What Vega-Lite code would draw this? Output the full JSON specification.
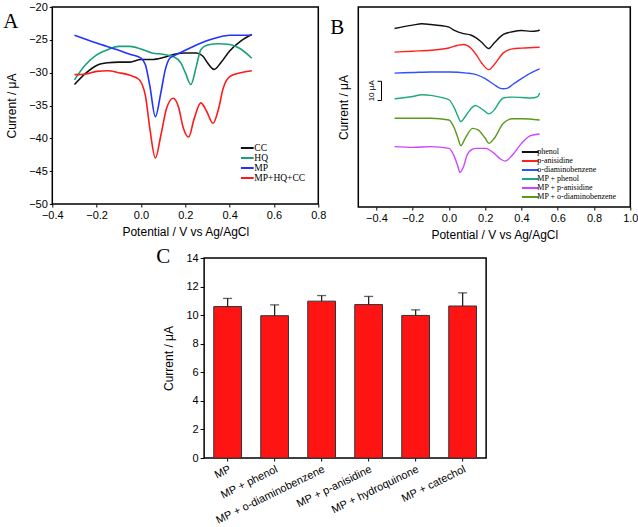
{
  "$schema": "https://vega.github.io/schema/vega-lite/v6.json",
  "background": "white",
  "padding": {"left": 2, "top": 0, "right": 0, "bottom": 2},
  "spacing": 4,
  "center": true,
  "resolve": {"scale": {"color": "independent"}, "legend": {"color": "independent"}},
  "config": {
    "view": {"stroke": "black", "strokeWidth": 1.5},
    "axis": {
      "domain": false, "grid": false, "tickColor": "black", "tickSize": 3,
      "labelColor": "black", "labelFont": "Liberation Sans", "labelFontSize": 11,
      "titleFont": "Liberation Sans", "titleFontSize": 12, "titleFontWeight": "normal", "titleColor": "black",
      "labelPadding": 2, "labelFlush": false, "labelOverlap": false
    },
    "legend": {
      "labelFont": "Liberation Serif", "labelColor": "black",
      "symbolStrokeWidth": 2, "padding": 0, "title": null, "labelOffset": 2
    },
    "title": {"font": "Liberation Serif", "fontSize": 21, "fontWeight": "normal", "color": "black", "anchor": "start", "frame": "group", "offset": 0}
  },
  "datasets": {
    "a": [
      {"s": "CC", "x": -0.3, "y": -31.8}, {"s": "CC", "x": -0.25, "y": -30.1}, {"s": "CC", "x": -0.2, "y": -28.9}, {"s": "CC", "x": -0.15, "y": -28.5}, {"s": "CC", "x": -0.1, "y": -28.4}, {"s": "CC", "x": -0.05, "y": -28.4}, {"s": "CC", "x": 0.0, "y": -28.0}, {"s": "CC", "x": 0.05, "y": -28.0}, {"s": "CC", "x": 0.1, "y": -27.7}, {"s": "CC", "x": 0.15, "y": -27.2}, {"s": "CC", "x": 0.2, "y": -27.0}, {"s": "CC", "x": 0.25, "y": -27.0}, {"s": "CC", "x": 0.28, "y": -27.5}, {"s": "CC", "x": 0.3, "y": -28.5}, {"s": "CC", "x": 0.33, "y": -29.5}, {"s": "CC", "x": 0.36, "y": -28.5}, {"s": "CC", "x": 0.4, "y": -26.7}, {"s": "CC", "x": 0.45, "y": -25.2}, {"s": "CC", "x": 0.5, "y": -24.2},
      {"s": "HQ", "x": -0.3, "y": -31.1}, {"s": "HQ", "x": -0.25, "y": -28.8}, {"s": "HQ", "x": -0.2, "y": -27.3}, {"s": "HQ", "x": -0.15, "y": -26.5}, {"s": "HQ", "x": -0.1, "y": -26.0}, {"s": "HQ", "x": -0.05, "y": -26.0}, {"s": "HQ", "x": 0.0, "y": -26.4}, {"s": "HQ", "x": 0.05, "y": -27.0}, {"s": "HQ", "x": 0.1, "y": -27.2}, {"s": "HQ", "x": 0.15, "y": -27.6}, {"s": "HQ", "x": 0.18, "y": -28.5}, {"s": "HQ", "x": 0.2, "y": -30.0}, {"s": "HQ", "x": 0.225, "y": -31.8}, {"s": "HQ", "x": 0.25, "y": -29.0}, {"s": "HQ", "x": 0.27, "y": -26.5}, {"s": "HQ", "x": 0.3, "y": -25.8}, {"s": "HQ", "x": 0.35, "y": -25.6}, {"s": "HQ", "x": 0.4, "y": -25.7}, {"s": "HQ", "x": 0.45, "y": -26.4}, {"s": "HQ", "x": 0.5, "y": -27.8},
      {"s": "MP", "x": -0.3, "y": -24.3}, {"s": "MP", "x": -0.2, "y": -25.5}, {"s": "MP", "x": -0.1, "y": -26.6}, {"s": "MP", "x": -0.05, "y": -27.2}, {"s": "MP", "x": 0.0, "y": -27.8}, {"s": "MP", "x": 0.02, "y": -28.8}, {"s": "MP", "x": 0.04, "y": -32.0}, {"s": "MP", "x": 0.065, "y": -36.7}, {"s": "MP", "x": 0.09, "y": -33.0}, {"s": "MP", "x": 0.11, "y": -29.5}, {"s": "MP", "x": 0.13, "y": -27.8}, {"s": "MP", "x": 0.15, "y": -27.4}, {"s": "MP", "x": 0.2, "y": -26.6}, {"s": "MP", "x": 0.25, "y": -25.8}, {"s": "MP", "x": 0.3, "y": -25.1}, {"s": "MP", "x": 0.35, "y": -24.6}, {"s": "MP", "x": 0.4, "y": -24.3}, {"s": "MP", "x": 0.5, "y": -24.3},
      {"s": "MP+HQ+CC", "x": -0.3, "y": -30.3}, {"s": "MP+HQ+CC", "x": -0.25, "y": -30.2}, {"s": "MP+HQ+CC", "x": -0.2, "y": -29.8}, {"s": "MP+HQ+CC", "x": -0.15, "y": -29.7}, {"s": "MP+HQ+CC", "x": -0.1, "y": -30.0}, {"s": "MP+HQ+CC", "x": -0.05, "y": -30.4}, {"s": "MP+HQ+CC", "x": -0.01, "y": -31.0}, {"s": "MP+HQ+CC", "x": 0.02, "y": -33.5}, {"s": "MP+HQ+CC", "x": 0.04, "y": -38.5}, {"s": "MP+HQ+CC", "x": 0.065, "y": -43.0}, {"s": "MP+HQ+CC", "x": 0.09, "y": -39.5}, {"s": "MP+HQ+CC", "x": 0.115, "y": -35.5}, {"s": "MP+HQ+CC", "x": 0.145, "y": -33.9}, {"s": "MP+HQ+CC", "x": 0.17, "y": -35.3}, {"s": "MP+HQ+CC", "x": 0.19, "y": -38.3}, {"s": "MP+HQ+CC", "x": 0.215, "y": -39.8}, {"s": "MP+HQ+CC", "x": 0.24, "y": -37.0}, {"s": "MP+HQ+CC", "x": 0.27, "y": -34.6}, {"s": "MP+HQ+CC", "x": 0.295, "y": -35.8}, {"s": "MP+HQ+CC", "x": 0.325, "y": -37.7}, {"s": "MP+HQ+CC", "x": 0.35, "y": -35.5}, {"s": "MP+HQ+CC", "x": 0.37, "y": -32.5}, {"s": "MP+HQ+CC", "x": 0.4, "y": -30.6}, {"s": "MP+HQ+CC", "x": 0.45, "y": -30.0}, {"s": "MP+HQ+CC", "x": 0.5, "y": -29.7}
    ],
    "b": [
      {"s": "phenol", "x": -0.3, "y": 93.7}, {"s": "phenol", "x": -0.2, "y": 95.5}, {"s": "phenol", "x": -0.15, "y": 96.2}, {"s": "phenol", "x": -0.1, "y": 95.8}, {"s": "phenol", "x": -0.05, "y": 95.3}, {"s": "phenol", "x": 0.0, "y": 94.4}, {"s": "phenol", "x": 0.03, "y": 92.7}, {"s": "phenol", "x": 0.08, "y": 91.0}, {"s": "phenol", "x": 0.12, "y": 90.3}, {"s": "phenol", "x": 0.15, "y": 88.8}, {"s": "phenol", "x": 0.18, "y": 86.5}, {"s": "phenol", "x": 0.22, "y": 83.2}, {"s": "phenol", "x": 0.25, "y": 86.2}, {"s": "phenol", "x": 0.3, "y": 90.6}, {"s": "phenol", "x": 0.35, "y": 92.0}, {"s": "phenol", "x": 0.4, "y": 92.7}, {"s": "phenol", "x": 0.45, "y": 92.2}, {"s": "phenol", "x": 0.49, "y": 92.5}, {"s": "phenol", "x": 0.5, "y": 93.0},
      {"s": "p-anisidine", "x": -0.3, "y": 81.3}, {"s": "p-anisidine", "x": -0.2, "y": 81.8}, {"s": "p-anisidine", "x": -0.1, "y": 82.3}, {"s": "p-anisidine", "x": 0.0, "y": 83.5}, {"s": "p-anisidine", "x": 0.05, "y": 84.9}, {"s": "p-anisidine", "x": 0.08, "y": 85.3}, {"s": "p-anisidine", "x": 0.12, "y": 83.5}, {"s": "p-anisidine", "x": 0.15, "y": 80.0}, {"s": "p-anisidine", "x": 0.18, "y": 75.6}, {"s": "p-anisidine", "x": 0.22, "y": 72.1}, {"s": "p-anisidine", "x": 0.25, "y": 74.8}, {"s": "p-anisidine", "x": 0.3, "y": 80.9}, {"s": "p-anisidine", "x": 0.35, "y": 83.0}, {"s": "p-anisidine", "x": 0.4, "y": 83.4}, {"s": "p-anisidine", "x": 0.5, "y": 83.9},
      {"s": "o-diaminobenzene", "x": -0.3, "y": 70.3}, {"s": "o-diaminobenzene", "x": -0.2, "y": 70.6}, {"s": "o-diaminobenzene", "x": -0.1, "y": 70.9}, {"s": "o-diaminobenzene", "x": 0.0, "y": 70.9}, {"s": "o-diaminobenzene", "x": 0.1, "y": 70.3}, {"s": "o-diaminobenzene", "x": 0.15, "y": 69.5}, {"s": "o-diaminobenzene", "x": 0.2, "y": 67.4}, {"s": "o-diaminobenzene", "x": 0.25, "y": 64.2}, {"s": "o-diaminobenzene", "x": 0.28, "y": 62.4}, {"s": "o-diaminobenzene", "x": 0.3, "y": 62.1}, {"s": "o-diaminobenzene", "x": 0.32, "y": 62.3}, {"s": "o-diaminobenzene", "x": 0.35, "y": 64.2}, {"s": "o-diaminobenzene", "x": 0.4, "y": 67.4}, {"s": "o-diaminobenzene", "x": 0.45, "y": 70.3}, {"s": "o-diaminobenzene", "x": 0.5, "y": 72.5},
      {"s": "MP + phenol", "x": -0.3, "y": 56.8}, {"s": "MP + phenol", "x": -0.2, "y": 58.0}, {"s": "MP + phenol", "x": -0.15, "y": 58.9}, {"s": "MP + phenol", "x": -0.1, "y": 58.6}, {"s": "MP + phenol", "x": -0.05, "y": 57.7}, {"s": "MP + phenol", "x": 0.0, "y": 56.3}, {"s": "MP + phenol", "x": 0.03, "y": 51.9}, {"s": "MP + phenol", "x": 0.05, "y": 47.5}, {"s": "MP + phenol", "x": 0.065, "y": 44.8}, {"s": "MP + phenol", "x": 0.09, "y": 47.5}, {"s": "MP + phenol", "x": 0.12, "y": 51.5}, {"s": "MP + phenol", "x": 0.145, "y": 53.3}, {"s": "MP + phenol", "x": 0.17, "y": 52.2}, {"s": "MP + phenol", "x": 0.2, "y": 50.1}, {"s": "MP + phenol", "x": 0.22, "y": 48.9}, {"s": "MP + phenol", "x": 0.25, "y": 51.0}, {"s": "MP + phenol", "x": 0.28, "y": 55.4}, {"s": "MP + phenol", "x": 0.3, "y": 57.2}, {"s": "MP + phenol", "x": 0.35, "y": 57.7}, {"s": "MP + phenol", "x": 0.4, "y": 57.5}, {"s": "MP + phenol", "x": 0.45, "y": 57.2}, {"s": "MP + phenol", "x": 0.49, "y": 58.0}, {"s": "MP + phenol", "x": 0.5, "y": 59.8},
      {"s": "MP + p-anisidine", "x": -0.3, "y": 31.7}, {"s": "MP + p-anisidine", "x": -0.2, "y": 31.3}, {"s": "MP + p-anisidine", "x": -0.1, "y": 31.7}, {"s": "MP + p-anisidine", "x": 0.0, "y": 30.8}, {"s": "MP + p-anisidine", "x": 0.03, "y": 26.4}, {"s": "MP + p-anisidine", "x": 0.05, "y": 21.1}, {"s": "MP + p-anisidine", "x": 0.06, "y": 18.1}, {"s": "MP + p-anisidine", "x": 0.08, "y": 21.1}, {"s": "MP + p-anisidine", "x": 0.1, "y": 27.3}, {"s": "MP + p-anisidine", "x": 0.13, "y": 30.4}, {"s": "MP + p-anisidine", "x": 0.15, "y": 30.8}, {"s": "MP + p-anisidine", "x": 0.2, "y": 30.8}, {"s": "MP + p-anisidine", "x": 0.25, "y": 28.1}, {"s": "MP + p-anisidine", "x": 0.28, "y": 25.5}, {"s": "MP + p-anisidine", "x": 0.31, "y": 24.1}, {"s": "MP + p-anisidine", "x": 0.35, "y": 27.3}, {"s": "MP + p-anisidine", "x": 0.4, "y": 33.4}, {"s": "MP + p-anisidine", "x": 0.45, "y": 37.5}, {"s": "MP + p-anisidine", "x": 0.5, "y": 38.3},
      {"s": "MP + o-diaminobenzene", "x": -0.3, "y": 46.6}, {"s": "MP + o-diaminobenzene", "x": -0.2, "y": 46.6}, {"s": "MP + o-diaminobenzene", "x": -0.1, "y": 46.6}, {"s": "MP + o-diaminobenzene", "x": 0.0, "y": 45.7}, {"s": "MP + o-diaminobenzene", "x": 0.03, "y": 41.3}, {"s": "MP + o-diaminobenzene", "x": 0.05, "y": 36.1}, {"s": "MP + o-diaminobenzene", "x": 0.065, "y": 32.2}, {"s": "MP + o-diaminobenzene", "x": 0.09, "y": 36.1}, {"s": "MP + o-diaminobenzene", "x": 0.13, "y": 41.3}, {"s": "MP + o-diaminobenzene", "x": 0.16, "y": 40.5}, {"s": "MP + o-diaminobenzene", "x": 0.2, "y": 36.1}, {"s": "MP + o-diaminobenzene", "x": 0.22, "y": 33.4}, {"s": "MP + o-diaminobenzene", "x": 0.25, "y": 36.1}, {"s": "MP + o-diaminobenzene", "x": 0.3, "y": 44.0}, {"s": "MP + o-diaminobenzene", "x": 0.35, "y": 46.3}, {"s": "MP + o-diaminobenzene", "x": 0.4, "y": 46.3}, {"s": "MP + o-diaminobenzene", "x": 0.5, "y": 45.7}
    ],
    "bar10": [
      {"x": -0.394, "xe": -0.372, "y": 66, "ye": 66},
      {"x": -0.394, "xe": -0.372, "y": 55.9, "ye": 55.9},
      {"x": -0.372, "xe": -0.372, "y": 55.9, "ye": 66}
    ],
    "bar10label": [{"x": -0.425, "y": 61, "t": "10 μA"}],
    "c": [
      {"k": "MP", "v": 10.6, "e": 11.17},
      {"k": "MP + phenol", "v": 9.96, "e": 10.72},
      {"k": "MP + o-diaminobenzene", "v": 10.98, "e": 11.37},
      {"k": "MP + p-anisidine", "v": 10.74, "e": 11.31},
      {"k": "MP + hydroquinone", "v": 9.98, "e": 10.37},
      {"k": "MP + catechol", "v": 10.64, "e": 11.56}
    ]
  },
  "vconcat": [
    {
      "resolve": {"scale": {"color": "independent"}, "legend": {"color": "independent"}},
      "spacing": 2,
      "hconcat": [
        {
          "title": {"text": "A", "dx": -49, "dy": 35},
          "width": 266, "height": 197,
          "data": {"name": "a"},
          "mark": {"type": "line", "interpolate": "monotone", "strokeWidth": 1.6, "clip": true},
          "encoding": {
            "x": {"field": "x", "type": "quantitative", "scale": {"domain": [-0.4, 0.8], "nice": false}, "axis": {"values": [-0.4, -0.2, 0, 0.2, 0.4, 0.6, 0.8], "format": ".1f", "title": "Potential / V vs Ag/AgCl", "titlePadding": 6}},
            "y": {"field": "y", "type": "quantitative", "scale": {"domain": [-50, -20], "nice": false}, "axis": {"values": [-50, -45, -40, -35, -30, -25, -20], "format": "d", "title": "Current / μA", "titlePadding": 10}},
            "color": {"field": "s", "type": "nominal", "scale": {"domain": ["CC", "HQ", "MP", "MP+HQ+CC"], "range": ["#111111", "#1aa07a", "#2233ff", "#ff1a1a"]}, "legend": {"orient": "none", "legendX": 190, "legendY": 136, "symbolType": "M-1.6,0H1.6", "symbolSize": 64, "labelFontSize": 9.5, "rowPadding": -2}},
            "order": {"field": "x", "type": "quantitative"}
          }
        },
        {
          "title": {"text": "B", "dx": -28, "dy": 35},
          "width": 272, "height": 200,
          "encoding": {
            "x": {"field": "x", "type": "quantitative", "scale": {"domain": [-0.5, 1.0], "nice": false}, "axis": {"values": [-0.4, -0.2, 0, 0.2, 0.4, 0.6, 0.8, 1.0], "format": ".1f", "title": "Potential / V vs Ag/AgCl", "titlePadding": 6}},
            "y": {"field": "y", "type": "quantitative", "scale": {"domain": [0, 105], "nice": false}, "axis": {"labels": false, "ticks": false, "title": "Current / μA", "titlePadding": 8}}
          },
          "layer": [
            {
              "data": {"name": "b"},
              "mark": {"type": "line", "interpolate": "monotone", "strokeWidth": 1.4},
              "encoding": {
                "color": {"field": "s", "type": "nominal", "scale": {"domain": ["phenol", "p-anisidine", "o-diaminobenzene", "MP + phenol", "MP + p-anisidine", "MP + o-diaminobenzene"], "range": ["#111111", "#ff2020", "#3050ff", "#1aaa80", "#cc44ff", "#5a9a1a"]}, "legend": {"orient": "none", "legendX": 167, "legendY": 140, "symbolType": "M-2.1,0H2.1", "symbolSize": 64, "labelFontSize": 8, "rowPadding": -1}},
                "order": {"field": "x", "type": "quantitative"}
              }
            },
            {
              "data": {"name": "bar10"},
              "mark": {"type": "rule", "color": "black", "strokeWidth": 1},
              "encoding": {
                "x2": {"field": "xe"},
                "y2": {"field": "ye"}
              }
            },
            {
              "data": {"name": "bar10label"},
              "mark": {"type": "text", "angle": 270, "font": "Liberation Sans", "fontSize": 8, "color": "black", "align": "center", "baseline": "middle"},
              "encoding": {
                "text": {"field": "t"}
              }
            }
          ]
        }
      ]
    },
    {
      "title": {"text": "C", "dx": -48, "dy": 19},
      "width": 282, "height": 200,
      "data": {"name": "c"},
      "encoding": {
        "x": {"field": "k", "type": "nominal", "sort": null, "scale": {"paddingInner": 0.41, "paddingOuter": 0.205}, "axis": {"labelAngle": -26, "title": null, "labelPadding": 2, "tickSize": 3}},
        "y": {"field": "v", "type": "quantitative", "scale": {"domain": [0, 14], "nice": false}, "axis": {"values": [0, 2, 4, 6, 8, 10, 12, 14], "title": "Current / μA", "titlePadding": 10, "tickSize": 4}}
      },
      "layer": [
        {
          "mark": {"type": "bar", "color": "#ff1414", "stroke": "#333333", "strokeWidth": 1}
        },
        {
          "mark": {"type": "rule", "color": "#222222", "strokeWidth": 1.3},
          "encoding": {
            "y2": {"field": "e"}
          }
        },
        {
          "mark": {"type": "tick", "color": "#222222", "thickness": 1.3, "size": 9},
          "encoding": {
            "y": {"field": "e", "type": "quantitative", "scale": {"domain": [0, 14], "nice": false}, "axis": {"values": [0, 2, 4, 6, 8, 10, 12, 14], "title": "Current / μA", "titlePadding": 10, "tickSize": 4}}
          }
        }
      ]
    }
  ]
}
